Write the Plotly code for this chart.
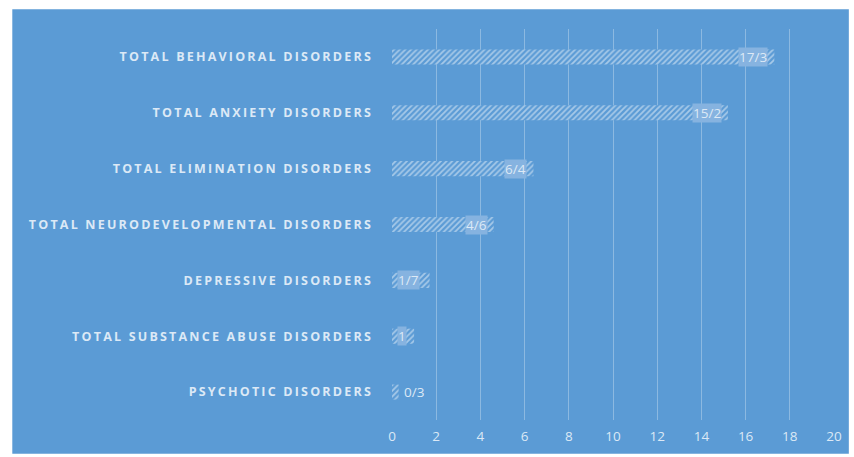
import plotly.graph_objects as go

categories = [
    "TOTAL BEHAVIORAL DISORDERS",
    "TOTAL ANXIETY DISORDERS",
    "TOTAL ELIMINATION DISORDERS",
    "TOTAL NEURODEVELOPMENTAL DISORDERS",
    "DEPRESSIVE DISORDERS",
    "TOTAL SUBSTANCE ABUSE DISORDERS",
    "PSYCHOTIC DISORDERS",
]
values = [17.3, 15.2, 6.4, 4.6, 1.7, 1.0, 0.3]
labels = ["17/3", "15/2", "6/4", "4/6", "1/7", "1", "0/3"]
x_ticks = [0, 2, 4, 6, 8, 10, 12, 14, 16, 18, 20]

BLUE = "#5b9bd5"
LIGHT = "#dce9f6"
BOX = "#86b3e0"

W, H = 854, 457
ML, MR, MT, MB = 392, 15, 29, 34
pw, ph = W - ML - MR, H - MT - MB

fig = go.Figure()
fig.add_trace(go.Bar(
    y=categories, x=values, orientation="h",
    marker=dict(color=BLUE, line=dict(width=0),
                pattern=dict(shape="/", fgcolor="rgba(255,255,255,0.92)",
                             bgcolor=BLUE, size=4, solidity=0.45)),
    hoverinfo="skip", showlegend=False,
))

LBL_FONT = dict(family="Open Sans", size=13.5, color=LIGHT)
annotations = []
for cat, v, lab in zip(categories, values, labels):
    if v >= 3:
        annotations.append(dict(x=v, y=cat, xref="x", yref="y", text=lab,
                                showarrow=False, xanchor="right", xshift=-6,
                                bgcolor=BOX, borderpad=0, font=LBL_FONT))
    elif v >= 0.9:
        annotations.append(dict(x=0, y=cat, xref="x", yref="y", text=lab,
                                showarrow=False, xanchor="left", xshift=5,
                                bgcolor=BOX, borderpad=0, font=LBL_FONT))
    else:
        annotations.append(dict(x=v, y=cat, xref="x", yref="y", text=lab,
                                showarrow=False, xanchor="left", xshift=3,
                                font=LBL_FONT))

# blue panel, leaving a thin white strip at top and left
fig.add_shape(type="rect", xref="paper", yref="paper", layer="below",
              x0=(8 - ML) / pw, x1=(W - ML) / pw,
              y0=-MB / ph, y1=(ph + MT - 9) / ph,
              fillcolor=BLUE, line=dict(width=0))

fig.update_layout(
    width=W, height=H,
    margin=dict(l=ML, r=MR, t=MT, b=MB, pad=0),
    paper_bgcolor="white", plot_bgcolor="rgba(0,0,0,0)",
    bargap=0.73,
    annotations=annotations,
    xaxis=dict(range=[0, 20], tickvals=x_ticks, showgrid=True,
               gridcolor="rgba(255,255,255,0.3)", gridwidth=1,
               zeroline=False, showline=False,
               tickfont=dict(family="Open Sans", size=13.5, color=LIGHT),
               ticklabelstandoff=6),
    yaxis=dict(categoryorder="array", categoryarray=categories[::-1],
               showgrid=False, zeroline=False, showline=False,
               tickfont=dict(family="Open Sans", size=12.5, color=LIGHT, weight="bold"),
               ticklabelstandoff=18),
)

post = """
document.documentElement.style.overflow='hidden';
document.body.style.margin='0';
document.body.style.overflow='hidden';
var gd = document.querySelector('.plotly-graph-div');
if (gd) { gd.style.position='fixed'; gd.style.left='0px'; gd.style.top='0px'; }
document.querySelectorAll('.ytick text').forEach(function(t){t.style.letterSpacing='2.2px';});
"""
fig.write_html("out.html", post_script=post,
               config={"responsive": False, "displayModeBar": False})
